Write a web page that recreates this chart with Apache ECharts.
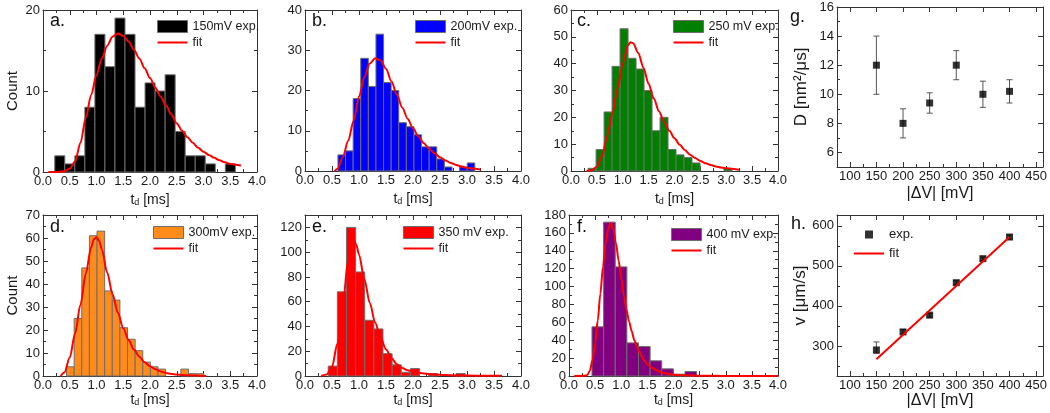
<!DOCTYPE html>
<html>
<head>
<meta charset="utf-8">
<script src="https://cdn.jsdelivr.net/npm/echarts@6/dist/echarts.min.js"></script>
<style>
  html, body { margin: 0; padding: 0; background: #fff; }
  #chart { width: 1050px; height: 413px; }
</style>
</head>
<body>
<div id="chart"></div>
<script>
// histograms a-f: first bin edge, bin width, counts per bin
var histStart = [0.22, 0.61, 0.33, 0.44, 0.43, 0.44];
var histWidth = [0.1875, 0.1408, 0.1545, 0.1425, 0.169, 0.2225];
var countsA = [2, 1, 2, 8, 17, 13, 19, 17, 8, 11, 10, 12, 5, 2, 2, 1, 0, 1];
var countsB = [4, 5, 18, 28, 21, 34, 22, 20, 12, 11, 9, 6, 6, 3, 1, 0, 1, 2];
var countsC = [1, 8, 22, 39, 53, 42, 38, 30, 15, 20, 8, 6, 5, 3, 0, 0, 0, 1];
var countsD = [4, 25, 47, 61, 63, 37, 33, 21, 16, 11, 6, 4, 3, 0, 0, 3, 1, 1];
var countsE = [8, 68, 120, 84, 45, 38, 18, 9, 3, 6, 0, 2, 0, 0, 2];
var countsF = [55, 172, 122, 37, 33, 17, 8, 2, 5];
var histNames = ['150mV exp.', '200mV exp.', '250 mV exp.', '300mV exp.', '350 mV exp.', '400 mV exp.'];
var histColors = ['#000000', '#0000ff', '#007f00', '#ff8c1a', '#ff0000', '#800080'];
var histYMax = [20, 40, 60, 70, 130, 180];
var histYStep = [10, 10, 10, 10, 20, 20];

// fitted curves
var fitA = [[0.1, 0], [0.3, 0], [0.4, 0.1], [0.5, 0.4], [0.6, 1.3], [0.7, 3.6], [0.8, 6.7], [0.9, 9.5], [1.0, 12], [1.1, 14], [1.2, 15.6], [1.3, 16.7], [1.4, 17.1], [1.5, 16.8], [1.6, 16.1], [1.7, 15.1], [1.8, 14.0], [1.9, 12.8], [2.0, 11.6], [2.1, 10.4], [2.2, 9.3], [2.3, 8.2], [2.4, 7.1], [2.5, 6.0], [2.6, 5.1], [2.7, 4.3], [2.8, 3.6], [2.9, 3.0], [3.0, 2.5], [3.1, 2.1], [3.2, 1.75], [3.3, 1.45], [3.4, 1.2], [3.5, 1.0], [3.6, 0.9], [3.7, 0.8]];
var fitB = [[0.55, 0], [0.6, 0.5], [0.7, 3.5], [0.8, 7.5], [0.9, 12.5], [1.0, 18.5], [1.1, 23.4], [1.2, 26.7], [1.3, 28], [1.4, 27.5], [1.5, 25.4], [1.6, 22.3], [1.7, 19], [1.8, 15.8], [1.9, 13], [2.0, 10.6], [2.1, 8.6], [2.2, 6.9], [2.3, 5.5], [2.4, 4.4], [2.5, 3.4], [2.6, 2.6], [2.7, 2.0], [2.8, 1.5], [2.9, 1.1], [3.0, 0.8], [3.1, 0.6], [3.25, 0.4]];
var fitC = [[0.3, 0], [0.4, 0.3], [0.5, 1.6], [0.6, 5.5], [0.7, 13], [0.8, 21.5], [0.9, 31], [1.0, 40], [1.1, 46.8], [1.15, 48], [1.2, 47.6], [1.3, 44], [1.4, 38.5], [1.5, 32.5], [1.6, 27], [1.7, 22.3], [1.8, 18.3], [1.9, 15], [2.0, 12.2], [2.1, 9.8], [2.2, 7.8], [2.3, 6.1], [2.4, 4.8], [2.5, 3.7], [2.6, 2.9], [2.7, 2.2], [2.8, 1.7], [2.9, 1.3], [3.0, 1.0], [3.1, 0.8], [3.25, 0.5]];
var fitD = [[0.33, 0], [0.4, 1.5], [0.5, 8], [0.6, 18.5], [0.7, 31], [0.8, 44.5], [0.9, 56], [0.95, 59.5], [1.0, 60.3], [1.05, 58.8], [1.1, 55], [1.2, 45], [1.3, 35.5], [1.4, 27.5], [1.5, 20.8], [1.6, 15.6], [1.7, 11.5], [1.8, 8.4], [1.9, 6], [2.0, 4.2], [2.1, 2.9], [2.2, 2.0], [2.3, 1.3], [2.4, 0.9], [2.5, 0.6], [2.7, 0.3], [3.05, 0]];
var fitE = [[0.3, 0], [0.4, 1.2], [0.5, 7.5], [0.6, 26], [0.7, 58], [0.8, 94], [0.85, 106], [0.9, 110], [0.95, 106], [1.0, 98], [1.1, 78], [1.2, 59], [1.3, 43], [1.4, 31], [1.5, 21.5], [1.6, 14.5], [1.7, 9.5], [1.8, 6.5], [1.9, 4.7], [2.0, 3.5], [2.2, 2.0], [2.4, 1.3], [2.6, 0.8], [2.8, 0.5], [3.2, 0.3], [3.65, 0.2]];
var fitF = [[0.1, 0], [0.3, 0.2], [0.35, 1], [0.4, 6], [0.45, 18], [0.5, 37], [0.55, 62], [0.6, 92], [0.65, 122], [0.7, 148], [0.75, 165], [0.8, 171], [0.85, 164], [0.9, 148], [0.95, 129], [1.0, 109], [1.05, 90], [1.1, 74], [1.15, 61], [1.2, 50], [1.25, 40], [1.3, 32.5], [1.35, 26.5], [1.4, 21], [1.45, 16.5], [1.5, 13], [1.6, 8.6], [1.7, 5.7], [1.8, 3.7], [1.9, 2.4], [2.0, 1.5], [2.2, 0.8], [2.5, 0.4], [3.0, 0.1], [4.0, 0]];

// panels g and h
var voltage = [150, 200, 250, 300, 350, 400];
var diffD = [12, 8, 9.4, 12, 10, 10.2];
var diffLow = [10, 7, 8.7, 11, 9.1, 9.4];
var diffHigh = [14, 9, 10.1, 13, 10.9, 11];
var vel = [290, 335, 377, 458, 518, 572];
var velLow = [282, 330, 372, 453, 513, 567];
var velHigh = [310, 341, 381, 463, 522, 577];
var velFit = [[150, 267], [400, 572]];
var vTicks = [100, 150, 200, 250, 300, 350, 400, 450];
var vMinor = [125, 175, 225, 275, 325, 375, 425];
var dTicks = [6, 8, 10, 12, 14, 16];
var dMinor = [7, 9, 11, 13, 15];
var velTicks = [300, 400, 500, 600];
var velMinor = [250, 350, 450, 550];

var counts = [countsA, countsB, countsC, countsD, countsE, countsF];
var fits = [fitA, fitB, fitC, fitD, fitE, fitF];
var histGrid = [0, 1, 2, 4, 5, 6];

var grids = [
  {left: 43, top: 10, width: 214, height: 162},
  {left: 305, top: 10, width: 216, height: 161},
  {left: 571, top: 10, width: 207, height: 161},
  {left: 837, top: 7, width: 211, height: 160},
  {left: 43, top: 215, width: 214, height: 161},
  {left: 305, top: 215, width: 216, height: 161},
  {left: 569, top: 215, width: 209, height: 161},
  {left: 837, top: 215, width: 211, height: 161}
];

var axisCol = '#333';
var txtCol = '#1a1a1a';
var lineIcon = 'path://M0,0 L30,0 L30,2 L0,2 Z';
var squareIcon = 'path://M0,0 L8,0 L8,8 L0,8 Z';

function makeAxis(gi, pos, conf, labels) {
  var a = {
    type: 'value', gridIndex: gi, position: pos,
    min: conf.min, max: conf.max,
    axisLine: {show: true, onZero: false, lineStyle: {color: axisCol, width: 1}},
    axisTick: {show: true, inside: true, length: 5, lineStyle: {color: axisCol}},
    minorTick: {show: true, splitNumber: 2, length: 3, lineStyle: {color: axisCol}},
    splitLine: {show: false},
    axisLabel: {show: labels, color: txtCol, fontSize: 13, margin: 3}
  };
  if (conf.interval) a.interval = conf.interval;
  if (conf.ticks) {
    a.axisTick.customValues = conf.ticks;
    a.axisLabel.customValues = conf.ticks;
    a.minorTick.show = false;
  }
  if (conf.fmt) a.axisLabel.formatter = conf.fmt;
  if (conf.hideMax) a.axisLabel.showMaxLabel = false;
  return a;
}

function minorAxis(gi, pos, min, max, vals) {
  return {
    type: 'value', gridIndex: gi, position: pos, min: min, max: max,
    axisLine: {show: false},
    axisTick: {show: true, inside: true, length: 3, customValues: vals, lineStyle: {color: axisCol}},
    axisLabel: {show: false}, splitLine: {show: false}
  };
}

var tdName = '{a|t}{b|d}{a| [ms]}';
var tdRich = {
  a: {fontSize: 14, lineHeight: 22, color: txtCol, verticalAlign: 'bottom'},
  b: {fontSize: 9, lineHeight: 9, color: txtCol, verticalAlign: 'bottom'}
};

var xAxes = [], yAxes = [];
for (var gi = 0; gi < 8; gi++) {
  var xc, yc;
  if (gi === 3 || gi === 7) {
    xc = {min: 76, max: 463, ticks: vTicks};
    yc = gi === 3 ? {min: 5, max: 16, ticks: dTicks} : {min: 225, max: 627, ticks: velTicks};
  } else {
    var k = histGrid.indexOf(gi);
    xc = {min: 0, max: 4, interval: 0.5, fmt: function (v) { return v.toFixed(1); }};
    yc = {min: 0, max: histYMax[k], interval: histYStep[k], hideMax: histYMax[k] % histYStep[k] !== 0};
  }
  var xb = makeAxis(gi, 'bottom', xc, true);
  var yl = makeAxis(gi, 'left', yc, true);
  if (gi === 3 || gi === 7) {
    xb.name = '|ΔV| [mV]';
    xb.nameLocation = 'middle';
    xb.nameGap = gi === 3 ? 19 : 17;
    xb.nameTextStyle = {fontSize: 16, color: txtCol};
    yl.name = gi === 3 ? 'D [nm²/μs]' : 'v [μm/s]';
    yl.nameLocation = 'middle';
    yl.nameGap = 27;
    yl.nameTextStyle = {fontSize: 17, color: txtCol};
  } else {
    xb.name = tdName;
    xb.nameLocation = 'middle';
    xb.nameGap = gi < 4 ? 13 : 9;
    xb.nameTextStyle = {rich: tdRich};
    if (gi === 0 || gi === 4) {
      yl.name = 'Count';
      yl.nameLocation = 'middle';
      yl.nameGap = 23;
      yl.nameTextStyle = {fontSize: 15, color: txtCol};
    }
  }
  xAxes.push(xb, makeAxis(gi, 'top', xc, false));
  yAxes.push(yl, makeAxis(gi, 'right', yc, false));
}
// minor ticks for panels g and h
xAxes.push(minorAxis(3, 'bottom', 76, 463, vMinor), minorAxis(7, 'bottom', 76, 463, vMinor));
yAxes.push(minorAxis(3, 'left', 5, 16, dMinor), minorAxis(7, 'left', 225, 627, velMinor));

function histData(k) {
  var out = [];
  var c = counts[k];
  for (var i = 0; i < c.length; i++) {
    if (!c[i]) continue;
    var x0 = histStart[k] + i * histWidth[k];
    out.push([x0, x0 + histWidth[k], c[i]]);
  }
  return out;
}

function renderBar(params, api) {
  var p0 = api.coord([api.value(0), api.value(2)]);
  var p1 = api.coord([api.value(1), 0]);
  return {
    type: 'rect',
    shape: {x: p0[0], y: p0[1], width: p1[0] - p0[0], height: p1[1] - p0[1]},
    style: {fill: api.visual('color'), stroke: '#6e6e6e', lineWidth: 1}
  };
}

function renderErr(params, api) {
  var x = api.value(0);
  var lo = api.coord([x, api.value(1)]);
  var hi = api.coord([x, api.value(2)]);
  var c = 3;
  var st = {stroke: '#555', lineWidth: 1};
  return {type: 'group', children: [
    {type: 'line', shape: {x1: lo[0], y1: lo[1], x2: hi[0], y2: hi[1]}, style: st},
    {type: 'line', shape: {x1: lo[0] - c, y1: lo[1], x2: lo[0] + c, y2: lo[1]}, style: st},
    {type: 'line', shape: {x1: hi[0] - c, y1: hi[1], x2: hi[0] + c, y2: hi[1]}, style: st}
  ]};
}

var series = [];
var legends = [];
var legendPos = [[152, 15], [410, 15], [668, 15], [148, 221], [398, 221], [666, 223]];
for (var k = 0; k < 6; k++) {
  var g = histGrid[k];
  series.push({
    type: 'custom', name: histNames[k], xAxisIndex: g * 2, yAxisIndex: g * 2,
    renderItem: renderBar, itemStyle: {color: histColors[k]},
    encode: {x: [0, 1], y: 2}, data: histData(k), z: 2
  });
  series.push({
    type: 'line', name: 'fit', xAxisIndex: g * 2, yAxisIndex: g * 2,
    data: fits[k], smooth: 0.3, smoothMonotone: 'x', symbol: 'none',
    lineStyle: {color: '#ff0000', width: 2}, itemStyle: {color: '#ff0000'}, z: 3
  });
  legends.push({
    orient: 'vertical', left: legendPos[k][0], top: legendPos[k][1],
    itemWidth: 30, itemHeight: 12, itemGap: 3, selectedMode: false,
    textStyle: {fontSize: 12.5, color: txtCol},
    data: [
      {name: histNames[k], icon: 'rect', itemStyle: {color: histColors[k], borderColor: '#6e6e6e', borderWidth: 1}},
      {name: 'fit', icon: lineIcon, itemStyle: {color: '#ff0000', borderWidth: 0}}
    ]
  });
}

// panel g
series.push({
  type: 'custom', name: 'Derr', xAxisIndex: 6, yAxisIndex: 6, renderItem: renderErr,
  encode: {x: 0, y: [1, 2]}, z: 2,
  data: voltage.map(function (v, i) { return [v, diffLow[i], diffHigh[i]]; })
});
series.push({
  type: 'scatter', name: 'D', xAxisIndex: 6, yAxisIndex: 6, symbol: 'rect', symbolSize: 7,
  itemStyle: {color: '#000'}, z: 3,
  data: voltage.map(function (v, i) { return [v, diffD[i]]; })
});
// panel h
series.push({
  type: 'custom', name: 'verr', xAxisIndex: 14, yAxisIndex: 14, renderItem: renderErr,
  encode: {x: 0, y: [1, 2]}, z: 2,
  data: voltage.map(function (v, i) { return [v, velLow[i], velHigh[i]]; })
});
series.push({
  type: 'scatter', name: 'exp.', xAxisIndex: 14, yAxisIndex: 14, symbol: 'rect', symbolSize: 7,
  itemStyle: {color: '#000'}, z: 3,
  data: voltage.map(function (v, i) { return [v, vel[i]]; })
});
series.push({
  type: 'line', name: 'fit', xAxisIndex: 14, yAxisIndex: 14, data: velFit, symbol: 'none',
  lineStyle: {color: '#ff0000', width: 2}, itemStyle: {color: '#ff0000'}, z: 4
});
legends.push({
  orient: 'vertical', left: 849, top: 223, itemWidth: 30, itemHeight: 8, itemGap: 6,
  selectedMode: false, textStyle: {fontSize: 13, color: txtCol},
  data: [
    {name: 'exp.', icon: squareIcon, itemStyle: {color: '#000', borderWidth: 0}},
    {name: 'fit', icon: lineIcon, itemStyle: {color: '#ff0000', borderWidth: 0}}
  ]
});

var panelLabels = [['a.', 50, 12], ['b.', 312, 12], ['c.', 577, 12], ['g.', 790, 8],
  ['d.', 50, 218], ['e.', 312, 218], ['f.', 577, 218], ['h.', 791, 215]];

var myChart = echarts.init(document.getElementById('chart'));
var option = {
  animation: false,
  textStyle: {fontFamily: 'Liberation Sans, Arial, sans-serif'},
  grid: grids,
  xAxis: xAxes,
  yAxis: yAxes,
  legend: legends,
  series: series,
  graphic: panelLabels.map(function (p) {
    return {type: 'text', left: p[1], top: p[2], style: {text: p[0], fontSize: 18, fill: '#111', fontFamily: 'Liberation Sans, Arial, sans-serif'}};
  })
};
myChart.setOption(option);
</script>
</body>
</html>
